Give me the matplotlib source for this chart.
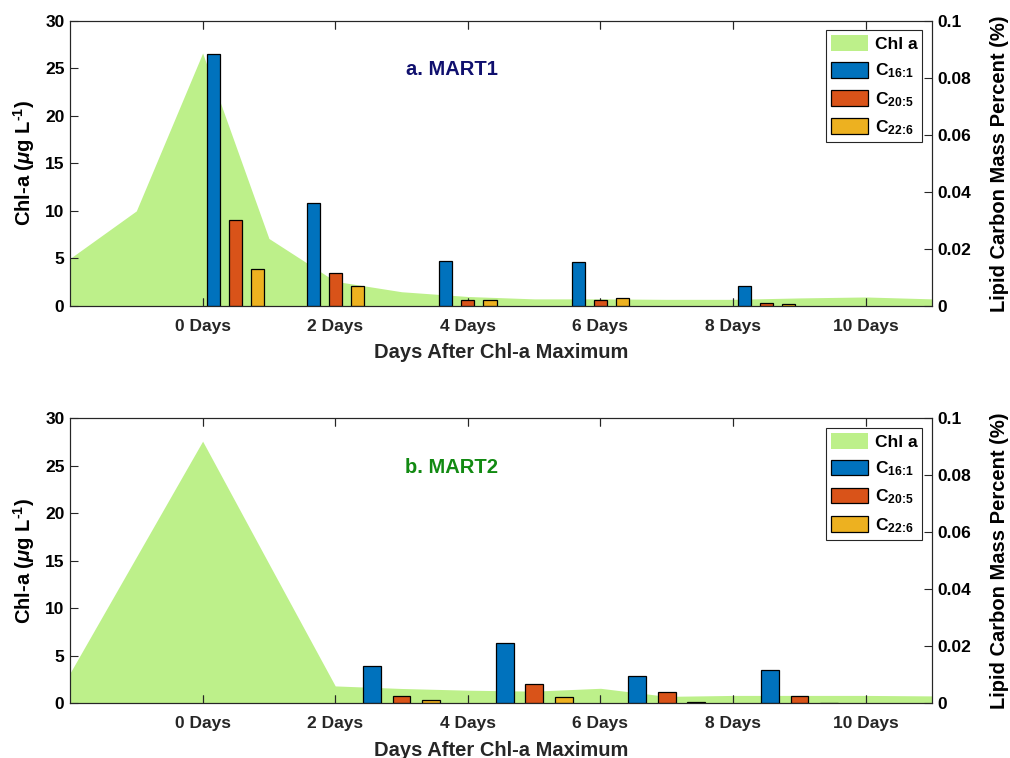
import numpy as np
import matplotlib
matplotlib.use("Agg")
import matplotlib.pyplot as plt
from matplotlib.patches import Patch

plt.rcParams["font.family"] = ["Liberation Sans", "DejaVu Sans"]
plt.rcParams["font.weight"] = "bold"
plt.rcParams["mathtext.fontset"] = "custom"
plt.rcParams["mathtext.rm"] = "Liberation Sans:bold"
plt.rcParams["mathtext.bf"] = "Liberation Sans:bold"
plt.rcParams["mathtext.it"] = "Liberation Sans:italic:bold"
plt.rcParams["mathtext.default"] = "bf"

# Chl-a (left axis), daily values
chl_days = [-2, -1, 0, 1, 2, 3, 4, 5, 6, 7, 8, 9, 10, 11]
chl_mart1 = [5.0, 10.0, 26.6, 7.1, 2.6, 1.5, 1.0, 0.75, 0.75, 0.7, 0.7, 0.85, 0.95, 0.75]
chl_mart2 = [3.2, 15.4, 27.6, 14.7, 1.85, 1.58, 1.4, 1.3, 1.6, 0.75, 0.85, 0.85, 0.85, 0.8]

# lipid carbon mass percent (right axis)
lipid_days_mart1 = [0.5, 2.0, 4.0, 6.0, 8.5]
c161_mart1 = [0.0882, 0.0361, 0.0158, 0.0153, 0.0071]
c205_mart1 = [0.0303, 0.0117, 0.0022, 0.0021, 0.00095]
c226_mart1 = [0.0129, 0.0071, 0.0022, 0.0028, 0.0006]

lipid_days_mart2 = [3.0, 5.0, 7.0, 9.0]
c161_mart2 = [0.0131, 0.0213, 0.0097, 0.0118]
c205_mart2 = [0.0027, 0.0067, 0.0042, 0.0027]
c226_mart2 = [0.0014, 0.0022, 0.0005, 0.0002]

series_labels = [r"C$_{\text{16:1}}$", r"C$_{\text{20:5}}$", r"C$_{\text{22:6}}$"]
xtick_days = [0, 2, 4, 6, 8, 10]
xtick_labels = ["%d Days" % d for d in xtick_days]
left_ticks = [0, 5, 10, 15, 20, 25, 30]
right_ticks = [0, 0.02, 0.04, 0.06, 0.08, 0.1]
right_labels = ["0", "0.02", "0.04", "0.06", "0.08", "0.1"]

green = "#bdf08a"
bar_colors = ["#0072bd", "#d95319", "#edb120"]
axcol = "#262626"


def draw_panel(rect, chl, ldays, lipids, spacing, width, title, tcolor):
    ax = fig.add_axes(rect)
    ax.fill_between(chl_days, chl, 0, color=green, lw=0, zorder=1)
    ax.set_xlim(-2, 11)
    ax.set_ylim(0, 30)
    ax.set_yticks(left_ticks)
    ax.set_xticks(xtick_days)
    ax.set_xticklabels(xtick_labels)
    ax.tick_params(direction="in", length=6, width=0.8, colors=axcol,
                   labelsize=12.5, top=True)
    ax.tick_params(axis="x", pad=9)
    ax.tick_params(axis="y", pad=4, labelcolor="black")
    for lab in ax.get_xticklabels() + ax.get_yticklabels():
        lab.set_fontweight("bold")
    ax.set_xlabel("Days After Chl-a Maximum", fontsize=14.5,
                  fontweight="bold", color=axcol, labelpad=7)
    ax.set_ylabel(r"Chl-a ($\mathit{\mu}$g L$^{\text{-1}}$)", fontsize=14.5,
                  fontweight="bold", labelpad=6)
    for s in ax.spines.values():
        s.set_color(axcol)
        s.set_linewidth(0.8)

    ax2 = ax.twinx()
    ax2.xaxis.set_visible(True)
    ax2.set_xlim(-2, 11)
    ax2.set_xticks(xtick_days)
    ax2.tick_params(axis="x", direction="in", length=6, width=0.8,
                    colors=axcol, top=True, labelbottom=False)
    x = np.array(ldays)
    for k, vals in enumerate(lipids):
        ax2.bar(x + (k - 1) * spacing, vals, width=width, color=bar_colors[k],
                edgecolor="black", linewidth=0.9, zorder=2)
    ax2.set_ylim(0, 0.1)
    ax2.set_yticks(right_ticks)
    ax2.set_yticklabels(right_labels)
    ax2.tick_params(axis="y", direction="in", length=6, width=0.8,
                    colors=axcol, labelcolor="black", labelsize=12.5, pad=4)
    for lab in ax2.get_yticklabels():
        lab.set_fontweight("bold")
    ax2.set_ylabel("Lipid Carbon Mass Percent (%)", fontsize=14.5,
                   fontweight="bold", labelpad=13)
    for s in ax2.spines.values():
        s.set_color(axcol)
        s.set_linewidth(0.8)

    ax2.text(0.443, 0.828, title, transform=ax2.transAxes, ha="center",
             va="center", fontsize=14.5, fontweight="bold", color=tcolor)

    handles = [Patch(facecolor=green, edgecolor="none", label="Chl a")]
    for k in range(3):
        handles.append(Patch(facecolor=bar_colors[k], edgecolor="black",
                             linewidth=0.9, label=series_labels[k]))
    leg = ax2.legend(handles=handles, loc="upper right", fontsize=12.5,
                     frameon=True, fancybox=False, framealpha=1,
                     edgecolor=axcol, borderaxespad=0.55,
                     handlelength=2.1, handleheight=1.0, handletextpad=0.4,
                     labelspacing=0.55, borderpad=0.3)
    leg.get_frame().set_linewidth(0.8)
    for t in leg.get_texts():
        t.set_fontweight("bold")
    return ax, ax2


fig = plt.figure(figsize=(10.1, 7.58), dpi=100)

draw_panel([0.0693, 0.5963, 0.8535, 0.3764], chl_mart1, lipid_days_mart1,
           [c161_mart1, c205_mart1, c226_mart1], 0.333, 0.2,
           "a. MART1", "#10106e")
draw_panel([0.0693, 0.0719, 0.8535, 0.3762], chl_mart2, lipid_days_mart2,
           [c161_mart2, c205_mart2, c226_mart2], 0.445, 0.267,
           "b. MART2", "#128a12")

fig.savefig("out.png", dpi=100)
